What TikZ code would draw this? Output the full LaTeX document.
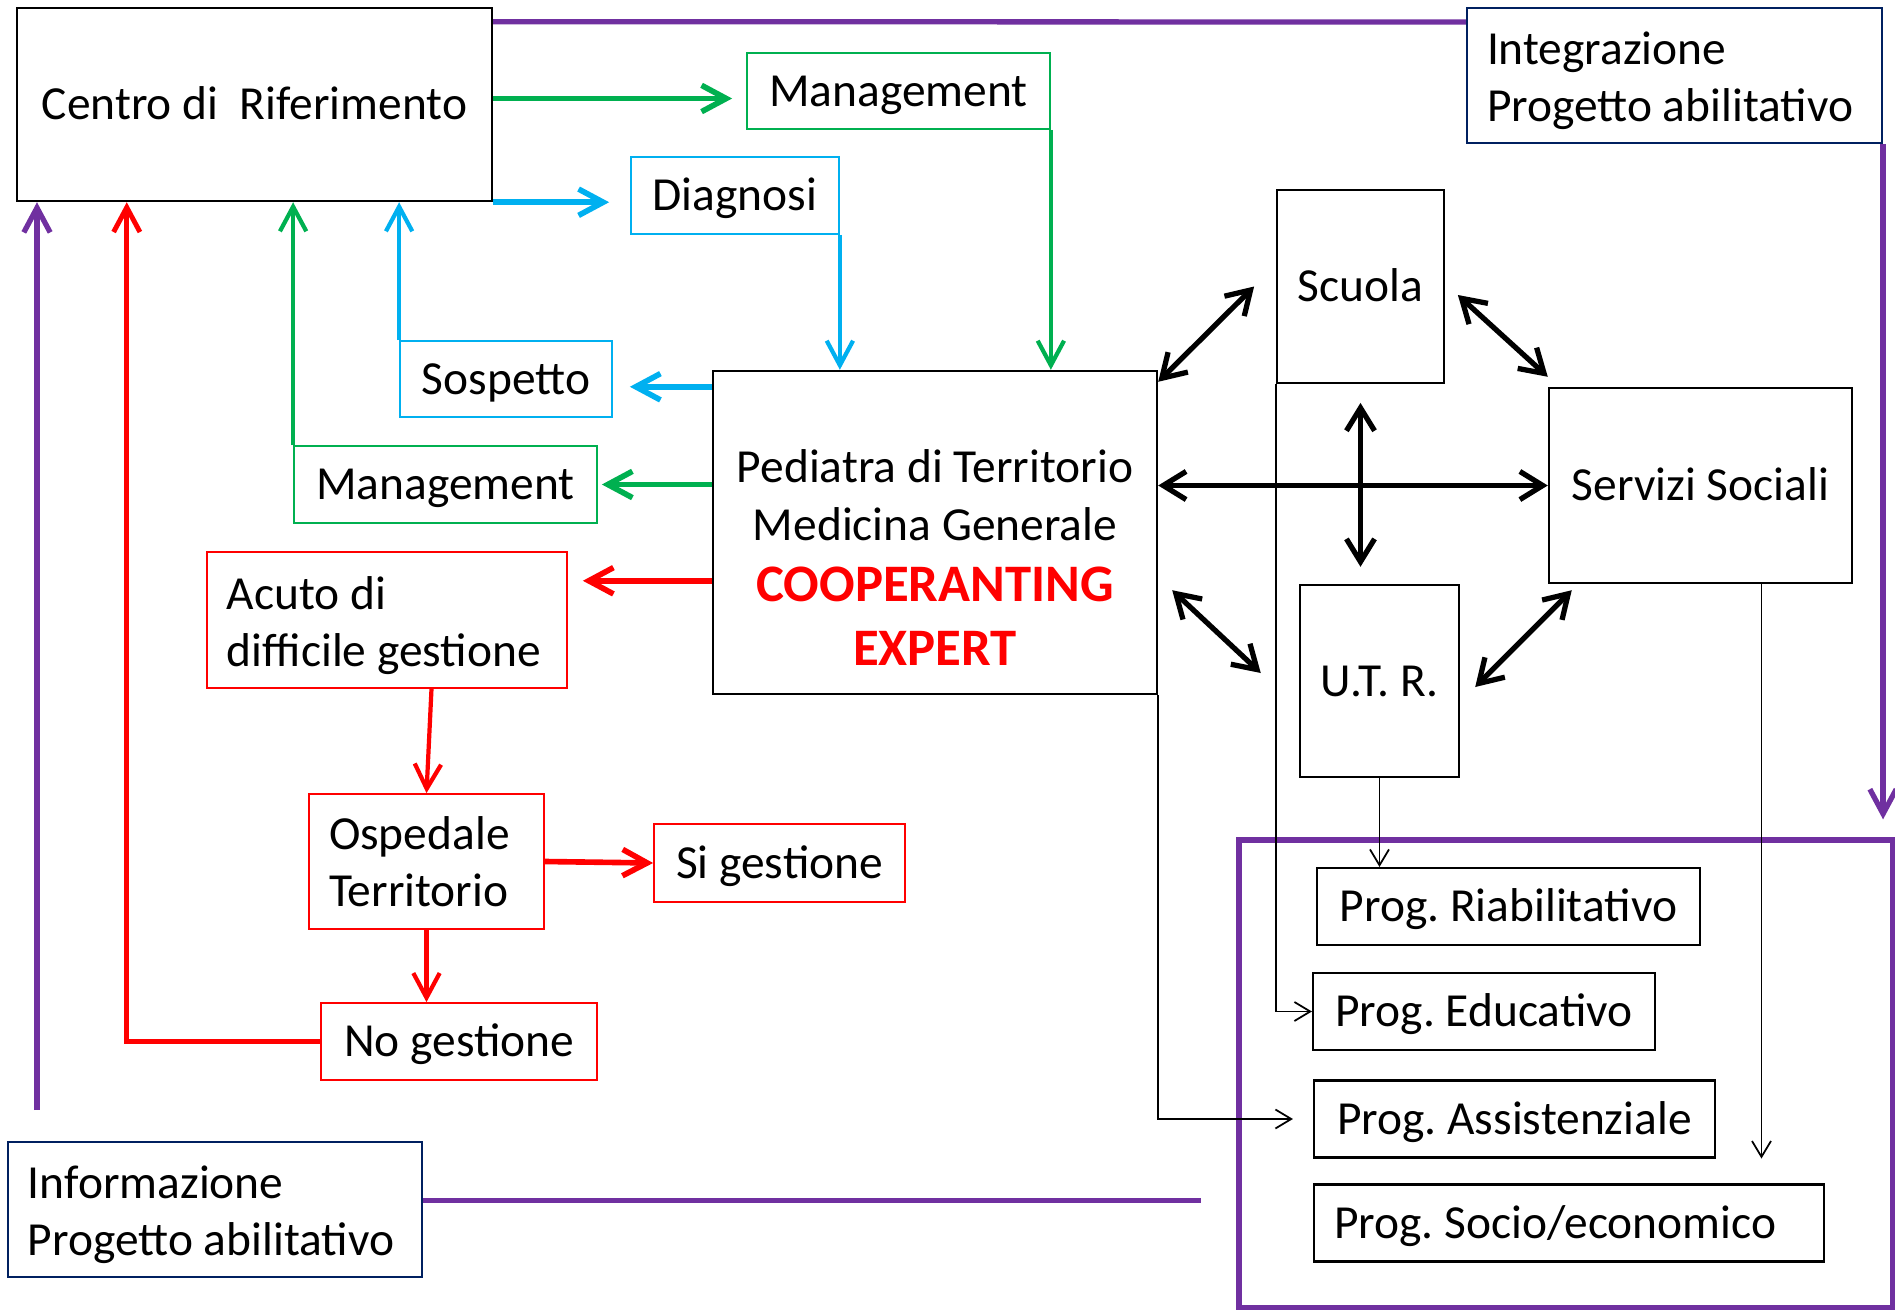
\documentclass[tikz,border=0pt]{standalone}
\usepackage{fontspec}
\setmainfont{Carlito}
\usetikzlibrary{arrows.meta,positioning}
\definecolor{grn}{HTML}{00B050}
\definecolor{cyn}{HTML}{00B0F0}
\definecolor{rd}{HTML}{FF0000}
\definecolor{purp}{HTML}{7030A0}
\definecolor{navy}{HTML}{002060}
\newcommand{\expertline}[1]{\textcolor{rd}{\fontsize{15}{18}\selectfont\bfseries #1}}
\newcommand{\topstrut}{\rule{0pt}{12.3pt}}
\tikzset{
	box/.style={draw, line width=0.5pt, inner xsep=0.2cm, inner ysep=0pt, align=center},
	oneline/.style={text height=10.1pt, text depth=1.35pt},
	blkbox/.style={box, line width=0.7pt},
	grnbox/.style={box, oneline, draw=grn},
	cynbox/.style={box, oneline, draw=cyn},
	rdbox/.style={box, draw=rd},
	navybox/.style={box, draw=navy, line width=0.6pt},
	progbox/.style={box, oneline, line width=0.6pt, minimum height=0.77cm},
	colarr/.style={line width=1.2pt, ->},
	widearr/.style={line width=1.6pt, ->},
	dblarr/.style={line width=1.5pt, <->, >={Straight Barb[length=6.5pt,width=8pt]}},
	thinarr/.style={line width=0.5pt, ->, >={Straight Barb[length=4.5pt,width=5.4pt]}},
	purpline/.style={draw=purp, line width=1.5pt}
}
\begin{document}
\begin{tikzpicture}[x=1cm,y=-1cm,>={Straight Barb[length=7pt,width=7.5pt]},font=\fontsize{13.5}{16.2}\selectfont\frenchspacing]
	\useasboundingbox (0,0) rectangle (18.95,13.10);
	\node[blkbox, oneline, minimum width=4.75cm, minimum height=1.93cm] (centro) at (2.545,1.045) {Centro di\ \ Riferimento};
	\node[navybox, minimum width=4.15cm, minimum height=1.35cm, text width=3.75cm, align=flush left] (integ) at (16.745,0.755) {\topstrut Integrazione\\Progetto abilitativo};
	\node[grnbox, minimum width=3.03cm, minimum height=0.76cm] (manA) at (8.985,0.91) {Management};
	\node[cynbox, minimum width=2.08cm, minimum height=0.77cm] (diag) at (7.35,1.955) {Diagnosi};
	\node[cynbox, minimum width=2.12cm, minimum height=0.76cm] (sosp) at (5.06,3.79) {Sospetto};
	\node[blkbox, minimum width=4.44cm, minimum height=3.23cm] (ped) at (9.35,5.325) {\rule{0pt}{23.5pt}Pediatra di Territorio\\[0.3pt]Medicina Generale\\[1pt]\expertline{COOPERANTING}\\[2pt]\expertline{EXPERT}};
	\node[grnbox, minimum width=3.03cm, minimum height=0.77cm] (manB) at (4.455,4.845) {Management};
	\node[rdbox, minimum width=3.60cm, minimum height=1.36cm, text width=3.20cm, align=flush left] (acuto) at (3.87,6.20) {\topstrut Acuto di\\difficile gestione};
	\node[rdbox, minimum width=2.35cm, minimum height=1.35cm, text width=1.95cm, align=flush left] (osp) at (4.265,8.615) {Ospedale\\Territorio};
	\node[rdbox, oneline, minimum width=2.51cm, minimum height=0.78cm] (si) at (7.795,8.63) {Si gestione};
	\node[rdbox, oneline, minimum width=2.76cm, minimum height=0.77cm] (no) at (4.59,10.415) {No gestione};
	\node[navybox, minimum width=4.14cm, minimum height=1.35cm, text width=3.74cm, align=flush left] (info) at (2.15,12.095) {\topstrut Informazione\\Progetto abilitativo};
	\node[blkbox, oneline, line width=0.5pt, minimum width=1.67cm, minimum height=1.93cm] (scuola) at (13.605,2.865) {Scuola};
	\node[blkbox, oneline, minimum width=3.03cm, minimum height=1.95cm] (serv) at (17.005,4.855) {Servizi Sociali};
	\node[blkbox, oneline, minimum width=1.59cm, minimum height=1.92cm] (utr) at (13.795,6.81) {U.T. R.};
	\node[draw=purp, line width=1.5pt, minimum width=6.54cm, minimum height=4.68cm, inner sep=0pt] (progframe) at (15.66,10.74) {};
	\node[progbox, minimum width=3.83cm] (riab) at (15.085,9.065) {Prog. Riabilitativo};
	\node[progbox, minimum width=3.42cm] (educ) at (14.84,10.115) {Prog. Educativo};
	\node[progbox, minimum width=4.01cm] (assist) at (15.145,11.19) {Prog. Assistenziale};
	\node[progbox, minimum width=5.10cm, text width=4.70cm, align=flush left] (socio) at (15.69,12.23) {Prog. Socio/economico};

	% purple
	\draw[purpline] ([yshift=-0.15cm]centro.north east) -- ([yshift=-0.15cm]integ.north west);
	\draw[purpline,->,shorten >=0.18cm] (integ.south east) -- (integ.south east |- progframe.north);
	\coordinate (infoup) at (0.37,11.10);
	\draw[purpline,->] (infoup) -- (infoup |- centro.south);
	\draw[purpline] ([yshift=0.09cm]info.east) -- ++(7.78,0);

	% green
	\draw[grn,widearr,shorten >=0.14cm] ([yshift=0.06cm]centro.east) -- ([yshift=0.06cm]centro.east -| manA.west);
	\draw[grn,colarr] (manA.south east) -- (manA.south east |- ped.north);
	\draw[grn,widearr,shorten >=0.04cm] (ped.west |- manB.east) -- (manB.east);
	\draw[grn,colarr] (manB.north west) -- (manB.north west |- centro.south);

	% cyan
	\draw[cyn,widearr,shorten >=0.21cm] (centro.south east) -- (centro.south east -| diag.west);
	\draw[cyn,colarr] (diag.south east) -- (diag.south east |- ped.north);
	\draw[cyn,widearr,shorten >=0.17cm] ([yshift=-0.17cm]ped.north west) -- ([yshift=-0.17cm]ped.north west -| sosp.east);
	\draw[cyn,colarr] (sosp.north west) -- (sosp.north west |- centro.south);

	% red
	\draw[rd,widearr,shorten >=0.15cm] ([yshift=-2.11cm]ped.north west) -- ([yshift=-2.11cm]ped.north west -| acuto.east);
	\draw[rd,colarr] ([xshift=0.05cm]osp.north |- acuto.south) -- (osp.north);
	\draw[rd,widearr] (osp.east) -- (si.west);
	\draw[rd,colarr] (osp.south) -- (osp.south |- no.north);
	\draw[rd,line width=1.4pt,->] (no.west) -| ([xshift=1.11cm]centro.south west);

	% black
	\draw[dblarr] ([yshift=-0.12cm]ped.north east) -- ([xshift=-0.22cm]scuola.west);
	\draw[dblarr] ([shift={(0.13,0.085)}]scuola.east) -- ([yshift=0.10cm]serv.north west);
	\draw[dblarr] (ped.east |- serv.west) -- (serv.west);
	\draw[dblarr] ([yshift=-0.19cm]scuola.south) -- ([yshift=0.17cm]scuola.south |- utr.north);
	\draw[dblarr] ([shift={(0.14,-1.05)}]ped.south east) -- ([shift={(-0.38,-0.08)}]utr.west);
	\draw[dblarr] ([shift={(0.15,0.06)}]utr.east) -- ([shift={(0.24,0.06)}]serv.south west);
	\draw[thinarr] (scuola.south west) |- (educ.west);
	\draw[thinarr] (utr.south) -- (utr.south |- riab.north);
	\draw[thinarr,shorten >=0.20cm] (ped.south east) |- (assist.west);
	\draw[thinarr] ([xshift=0.61cm]serv.south) -- ([xshift=0.61cm]serv.south |- assist.south);
\end{tikzpicture}
\end{document}
